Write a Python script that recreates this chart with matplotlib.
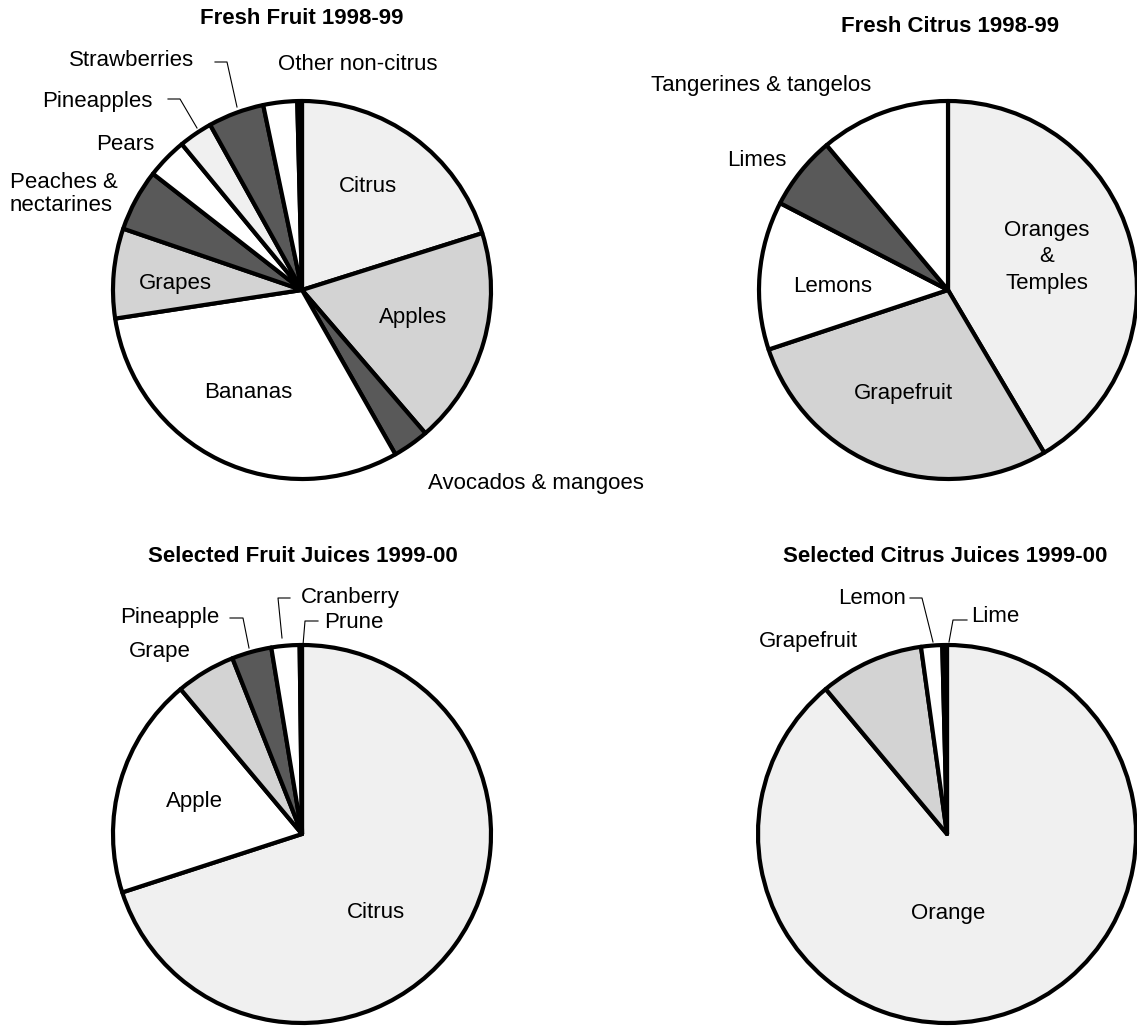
import matplotlib
matplotlib.use("Agg")
import matplotlib.pyplot as plt

plt.rcParams["font.family"] = ["Liberation Sans", "DejaVu Sans"]

W, H = 1137, 1026

LIGHT = "#f0f0f0"
MID = "#d3d3d3"
DARK = "#595959"

# shares (percent of each pie), clockwise from 12 o'clock
fruit_labels = ["Citrus", "Apples", "Avocados & mangoes", "Bananas", "Grapes",
                "Peaches & nectarines", "Pears", "Pineapples", "Strawberries",
                "Other non-citrus", ""]
fruit_shares = [20.2, 18.6, 3.1, 30.9, 7.7, 5.3, 3.5, 2.9, 4.8, 2.9, 0.4]
fruit_colors = [LIGHT, MID, DARK, "white", MID, DARK, "white", LIGHT, DARK, "white", "black"]

citrus_labels = ["Oranges & Temples", "Grapefruit", "Lemons", "Limes", "Tangerines & tangelos"]
citrus_shares = [41.5, 28.4, 12.7, 6.3, 11.1]
citrus_colors = [LIGHT, MID, "white", DARK, "white"]

juice_labels = ["Citrus", "Apple", "Grape", "Pineapple", "Cranberry", "Prune"]
juice_shares = [70.0, 18.9, 5.1, 3.4, 2.4, 0.2]
juice_colors = [LIGHT, "white", MID, DARK, "white", "white"]

cjuice_labels = ["Orange", "Grapefruit", "Lemon", "Lime"]
cjuice_shares = [89.0, 8.9, 1.8, 0.4]
cjuice_colors = [LIGHT, MID, "white", "black"]

fig = plt.figure(figsize=(W / 100, H / 100), dpi=100)
ax = fig.add_axes([0, 0, 1, 1])


def draw_pie(values, colors, cx, cy, r):
    ax.pie(values, colors=colors, startangle=90, counterclock=False,
           center=(cx, H - cy), radius=r,
           wedgeprops=dict(edgecolor="black", linewidth=3.0, joinstyle="round"))


def label(txt, x, y, ha="center", **kw):
    ax.text(x, H - y, txt, ha=ha, va="center", fontsize=16, **kw)


def title(txt, x, y):
    ax.text(x, H - y, txt, ha="center", va="center", fontsize=16, fontweight="bold")


def leader(xs, ys):
    ax.plot(xs, [H - v for v in ys], color="black", linewidth=0.8)


draw_pie(fruit_shares, fruit_colors, 302, 290, 189)
draw_pie(citrus_shares, citrus_colors, 948, 290, 189)
draw_pie(juice_shares, juice_colors, 302, 834, 189)
draw_pie(cjuice_shares, cjuice_colors, 947, 834, 189)

# Fresh fruit
title("Fresh Fruit 1998-99", 302, 19)
label("Citrus", 368, 187)
label("Apples", 413, 318)
label("Bananas", 248, 393)
label("Grapes", 175, 283)
label("Avocados & mangoes", 536, 483)
label("Peaches &\nnectarines", 10, 194, ha="left", linespacing=1.12)
label("Pears", 125, 144)
label("Pineapples", 97, 101)
label("Strawberries", 132, 61)
label("Other non-citrus", 358, 65)
leader([168, 180, 197], [99, 99, 128])
leader([215, 227, 237], [62, 62, 107])

# Fresh citrus
title("Fresh Citrus 1998-99", 950, 27)
label("Tangerines & tangelos", 761, 85)
label("Limes", 757, 160)
label("Lemons", 833, 286)
label("Grapefruit", 903, 393)
label("Oranges\n&\nTemples", 1047, 257, linespacing=1.37)

# Fruit juices
title("Selected Fruit Juices 1999-00", 303, 556)
label("Cranberry", 350, 598)
label("Prune", 354, 623)
label("Pineapple", 170, 618)
label("Grape", 160, 652)
label("Apple", 194, 802)
label("Citrus", 376, 913)
leader([290, 278, 282], [598, 598, 638])
leader([318, 305, 303], [621, 621, 645])
leader([230, 243, 249], [618, 618, 648])

# Citrus juices
title("Selected Citrus Juices 1999-00", 945, 556)
label("Lemon", 872, 598)
label("Lime", 995, 617)
label("Grapefruit", 808, 642)
label("Orange", 948, 913)
leader([910, 922, 933], [598, 598, 642])
leader([967, 953, 949], [620, 620, 642])

ax.set_xlim(0, W)
ax.set_ylim(0, H)
ax.set_aspect("equal")
ax.axis("off")

fig.savefig("out.png", dpi=100, facecolor="white")
